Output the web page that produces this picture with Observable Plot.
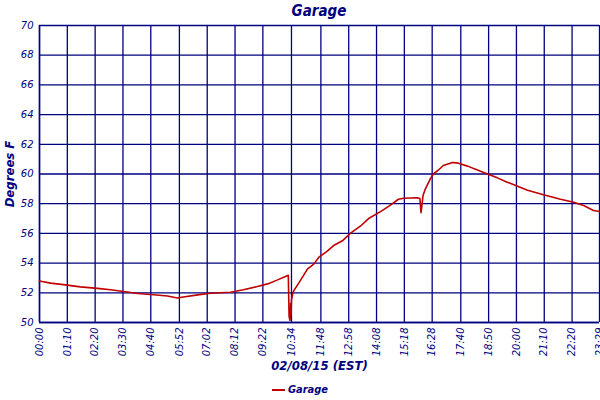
<!DOCTYPE html>
<html>
<head>
<meta charset="utf-8">
<script src="https://cdn.jsdelivr.net/npm/d3@7"></script>
<script src="https://cdn.jsdelivr.net/npm/@observablehq/plot@0.6"></script>
<style>
  html, body { margin: 0; padding: 0; background: #fff; }
  #wrap { position: relative; width: 600px; height: 400px; overflow: hidden; font-family: "DejaVu Sans", sans-serif; color: #000080; }
  #title { position: absolute; left: 39px; width: 560px; top: 1px; text-align: center; font-family: "DejaVu Sans Condensed", "DejaVu Sans", sans-serif; font-style: italic; font-weight: bold; font-size: 15px; line-height: 20px; }
  #legend { position: absolute; left: 0; width: 600px; top: 382px; text-align: center; font-family: "DejaVu Sans Condensed", "DejaVu Sans", sans-serif; font-style: italic; font-weight: bold; font-size: 11px; line-height: 16px; }
  #legend .sw { display: inline-block; width: 13px; height: 2px; background: #c00000; vertical-align: middle; margin-right: 3px; }
  #chart { position: absolute; left: 0; top: 0; }
</style>
</head>
<body>
<div id="wrap">
  <div id="chart"></div>
  <div id="title">Garage</div>
  <div id="legend"><span class="sw"></span>Garage</div>
</div>
<script>
// Series: time of day (EST) and temperature (°F)
const times = ["00:00","00:28","01:00","01:43","02:26","02:59","03:41","04:07","04:47","05:22","05:47","06:02","06:38","07:10","08:01","08:33","09:08","09:34","09:59","10:19","10:26","10:28","10:30","10:31","10:32","10:33","10:34","10:37","10:40","10:57","11:14","11:30","11:43","12:04","12:20","12:42","13:02","13:28","13:48","14:18","14:43","15:03","15:16","15:51","15:57","16:00","16:05","16:11","16:24","16:31","16:44","16:56","17:19","17:34","17:57","18:22","18:47","19:12","19:37","20:03","20:28","21:08","21:51","22:24","22:49","23:14","23:29"];
const temps = [52.8,52.65,52.55,52.4,52.3,52.2,52.05,51.95,51.87,51.78,51.65,51.72,51.86,51.97,52.04,52.2,52.42,52.6,52.87,53.1,53.18,50.4,50.15,50.3,51.3,50.5,51.5,51.93,52.15,52.85,53.6,53.93,54.4,54.8,55.18,55.5,56.0,56.5,57.0,57.47,57.9,58.3,58.37,58.4,58.35,57.4,58.55,59.0,59.7,60.0,60.27,60.57,60.77,60.73,60.53,60.27,60.0,59.74,59.45,59.18,58.9,58.6,58.3,58.1,57.88,57.54,57.47];
// Axis tick labels
const xTickLabels = ["00:00","01:10","02:20","03:30","04:40","05:52","07:02","08:12","09:22","10:34","11:48","12:58","14:08","15:18","16:28","17:40","18:50","20:00","21:10","22:20","23:29"];
const yTicks = [50,52,54,56,58,60,62,64,66,68,70];

const toMin = s => { const [h, m] = s.split(":").map(Number); return h * 60 + m; };
const fmt = v => { const h = Math.floor(v / 60), m = Math.round(v % 60); return String(h).padStart(2, "0") + ":" + String(m).padStart(2, "0"); };
const data = times.map((t, i) => ({ t: toMin(t), v: temps[i] }));
const xTicks = xTickLabels.map(toMin);

const navy = "#000080";
const plot = Plot.plot({
  width: 600,
  height: 378,
  marginLeft: 39,
  marginRight: 1,
  marginTop: 25,
  marginBottom: 56,
  style: { fontFamily: "DejaVu Sans, sans-serif", fontStyle: "italic", fontSize: "10px", color: navy, background: "white", overflow: "visible" },
  x: { domain: [xTicks[0], xTicks[xTicks.length - 1]] },
  y: { domain: [50, 70] },
  marks: [
    Plot.gridX(xTicks, { stroke: navy, strokeOpacity: 1, strokeWidth: 1.3 }),
    Plot.gridY(yTicks, { stroke: navy, strokeOpacity: 1, strokeWidth: 1.3 }),
    Plot.ruleX([xTicks[0]], { stroke: navy, strokeWidth: 1.5 }),
    Plot.ruleY([50], { stroke: navy, strokeWidth: 1.5 }),
    Plot.axisX(xTicks, { tickFormat: fmt, tickRotate: -90, tickSize: 0, tickPadding: 5, fill: navy, fontSize: 10,
      label: "02/08/15 (EST)", labelAnchor: "center", labelArrow: "none", labelOffset: 47 }),
    Plot.axisY(yTicks, { tickSize: 0, tickPadding: 6, fill: navy, fontSize: 10,
      label: "Degrees F", labelAnchor: "center", labelArrow: "none", labelOffset: 35 }),
    Plot.line(data, { x: "t", y: "v", stroke: "#c00000", strokeWidth: 1.6 })
  ]
});
document.getElementById("chart").appendChild(plot);
// style the axis labels (bold, slightly larger, condensed)
plot.querySelectorAll("g[aria-label='x-axis label'] text, g[aria-label='y-axis label'] text").forEach(t => {
  t.style.fontSize = "13px";
  t.style.fontWeight = "bold";
  t.style.fontFamily = "DejaVu Sans Condensed, DejaVu Sans, sans-serif";
  t.setAttribute("fill", navy);
});
</script>
</body>
</html>
